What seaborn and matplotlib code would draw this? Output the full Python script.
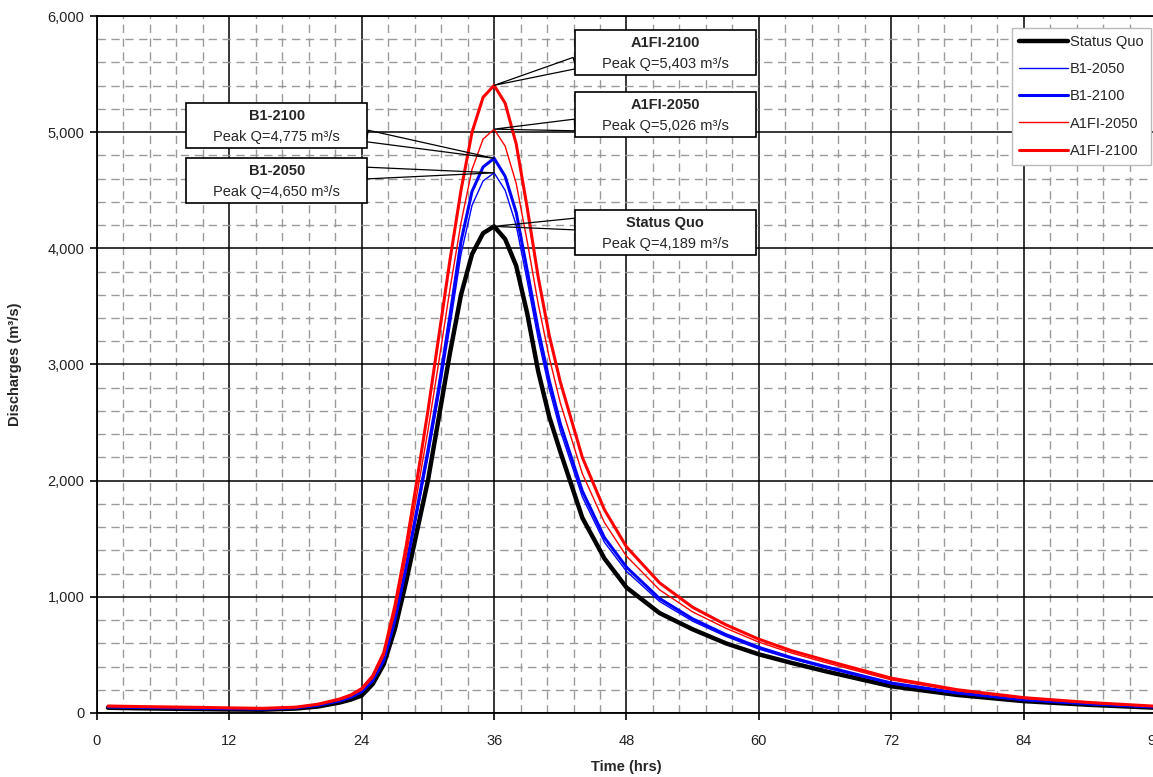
import seaborn as sns
import pandas as pd
import matplotlib.pyplot as plt
from matplotlib.patches import Rectangle
from matplotlib.ticker import MultipleLocator, FuncFormatter

# hydrograph ordinates (hrs, m3/s)
times = [1, 4, 8, 12, 15, 18, 20, 22, 23, 24, 25, 26, 27, 28, 29, 30, 31, 32, 33, 34, 35,
         36, 37, 38, 39, 40, 41, 42, 44, 46, 48, 51, 54, 57, 60, 63, 66, 72, 78, 84, 90, 96]

status_quo = [45, 40, 35, 30, 28, 38, 55, 90, 115, 150, 250, 420, 720, 1120, 1560, 2000, 2550, 3100, 3600, 3950, 4130,
              4189, 4080, 3850, 3440, 2940, 2550, 2250, 1680, 1330, 1080, 860, 720, 600, 505, 430, 360, 230, 155, 102, 70, 45]
b1_2050 = [50, 45, 40, 35, 32, 42, 62, 100, 130, 175, 270, 440, 770, 1210, 1700, 2200, 2740, 3330, 3950, 4370, 4580,
           4650, 4500, 4200, 3720, 3220, 2790, 2430, 1860, 1470, 1220, 960, 790, 660, 550, 465, 390, 250, 168, 110, 75, 48]
b1_2100 = [52, 47, 42, 37, 33, 44, 65, 105, 135, 185, 280, 455, 800, 1250, 1750, 2260, 2810, 3420, 4060, 4490, 4700,
           4775, 4620, 4310, 3810, 3300, 2860, 2490, 1910, 1510, 1255, 985, 810, 675, 565, 475, 400, 258, 173, 114, 78, 50]
a1fi_2050 = [56, 50, 45, 40, 36, 47, 70, 112, 145, 198, 300, 490, 860, 1340, 1880, 2430, 3030, 3650, 4220, 4680, 4940,
             5026, 4880, 4560, 4060, 3520, 3060, 2670, 2060, 1640, 1350, 1060, 870, 730, 610, 515, 435, 285, 190, 125, 85, 55]
a1fi_2100 = [60, 55, 50, 44, 40, 50, 75, 120, 155, 210, 320, 520, 920, 1420, 2000, 2600, 3250, 3900, 4500, 5000, 5300,
             5403, 5250, 4900, 4350, 3750, 3250, 2850, 2200, 1750, 1430, 1120, 910, 760, 635, 535, 455, 300, 200, 132, 90, 58]

scenarios = ['Status Quo', 'B1-2050', 'B1-2100', 'A1FI-2050', 'A1FI-2100']
peaks = [4189, 4650, 4775, 5026, 5403]
peak_time = 36

series = [status_quo, b1_2050, b1_2100, a1fi_2050, a1fi_2100]
colors = ['black', '#0000ff', '#0000ff', '#ff0000', '#ff0000']
widths = [3.2, 1.0, 2.2, 1.0, 2.2]

df = pd.concat([pd.DataFrame({'Time': times, 'Q': vals, 'Scenario': name})
                for name, vals in zip(scenarios, series)])

sns.set_theme(style='white')
plt.rcParams['font.family'] = ['Liberation Sans', 'DejaVu Sans']

fig = plt.figure(figsize=(11.53, 7.77), dpi=100)
ax = fig.add_axes([0.0841, 0.0824, 0.9185, 0.897])

for name, c, w in zip(scenarios, colors, widths):
    sns.lineplot(data=df[df['Scenario'] == name], x='Time', y='Q', color=c, lw=w,
                 label=name, ax=ax, zorder=3)

ax.set_xlim(0, 96)
ax.set_ylim(0, 6000)
ax.xaxis.set_major_locator(MultipleLocator(12))
ax.xaxis.set_minor_locator(MultipleLocator(2.4))
ax.yaxis.set_major_locator(MultipleLocator(1000))
ax.yaxis.set_minor_locator(MultipleLocator(200))
ax.yaxis.set_major_formatter(FuncFormatter(lambda v, p: f'{v:,.0f}'))

ax.set_axisbelow(True)
ax.grid(which='minor', color='#9a9a9a', ls=(0, (6, 4)), lw=1.0)
ax.grid(which='major', color='black', lw=1.1)
for s in ax.spines.values():
    s.set_color('black')
    s.set_linewidth(1.3)

ax.tick_params(which='major', direction='out', length=5, width=1.2, color='black',
               labelsize=10.5, labelcolor='#222222')
ax.tick_params(axis='x', which='major', pad=10, bottom=True)
ax.tick_params(axis='y', which='major', pad=4, left=True)
ax.tick_params(which='minor', length=0)

ax.set_xlabel('Time (hrs)', fontsize=10.5, fontweight='bold')
ax.set_ylabel('Discharges (m³/s)', fontsize=10.5, fontweight='bold')
ax.xaxis.set_label_coords(0.5, -0.068)
ax.yaxis.set_label_coords(-0.071, 0.5)

# callout boxes: (left hrs, bottom Q, wedge anchor Q, side)
callouts = {
    'A1FI-2100': (43.3, 5492, 5595, 'left'),
    'A1FI-2050': (43.3, 4958, 5062, 'left'),
    'B1-2100': (8.1, 4864, 4967, 'right'),
    'B1-2050': (8.1, 4390, 4648, 'right'),
    'Status Quo': (43.3, 3942, 4209, 'left'),
}
box_w, box_h = 16.4, 387
for name, pk in zip(scenarios, peaks):
    x0, y0, ya, side = callouts[name]
    ax.add_patch(Rectangle((x0, y0), box_w, box_h, fc='white', ec='black', lw=1.2, zorder=6))
    cx, cy = x0 + box_w / 2, y0 + box_h / 2
    ax.annotate(name, xy=(cx, cy), xytext=(0, 7), textcoords='offset points',
                ha='center', va='center', fontsize=10.5, fontweight='bold', zorder=7)
    ax.annotate(f'Peak Q={pk:,} m³/s', xy=(cx, cy), xytext=(0, -8), textcoords='offset points',
                ha='center', va='center', fontsize=10.5, zorder=7)
    xa = x0 if side == 'left' else x0 + box_w
    ax.annotate('', xy=(peak_time, pk), xytext=(xa, ya), zorder=5,
                arrowprops=dict(arrowstyle='wedge,tail_width=0.7', fc='none', ec='black',
                                lw=0.9, shrinkA=0, shrinkB=0))

leg = ax.legend(loc='upper right', bbox_to_anchor=(0.995, 0.983), borderaxespad=0,
                fontsize=10.5, handlelength=3.3, handletextpad=0.15, labelspacing=0.9,
                borderpad=0.5, frameon=True, fancybox=False, edgecolor='#bbbbbb', framealpha=1)
leg.get_frame().set_linewidth(1.0)
leg.set_zorder(8)

fig.savefig('out.png', dpi=100)
